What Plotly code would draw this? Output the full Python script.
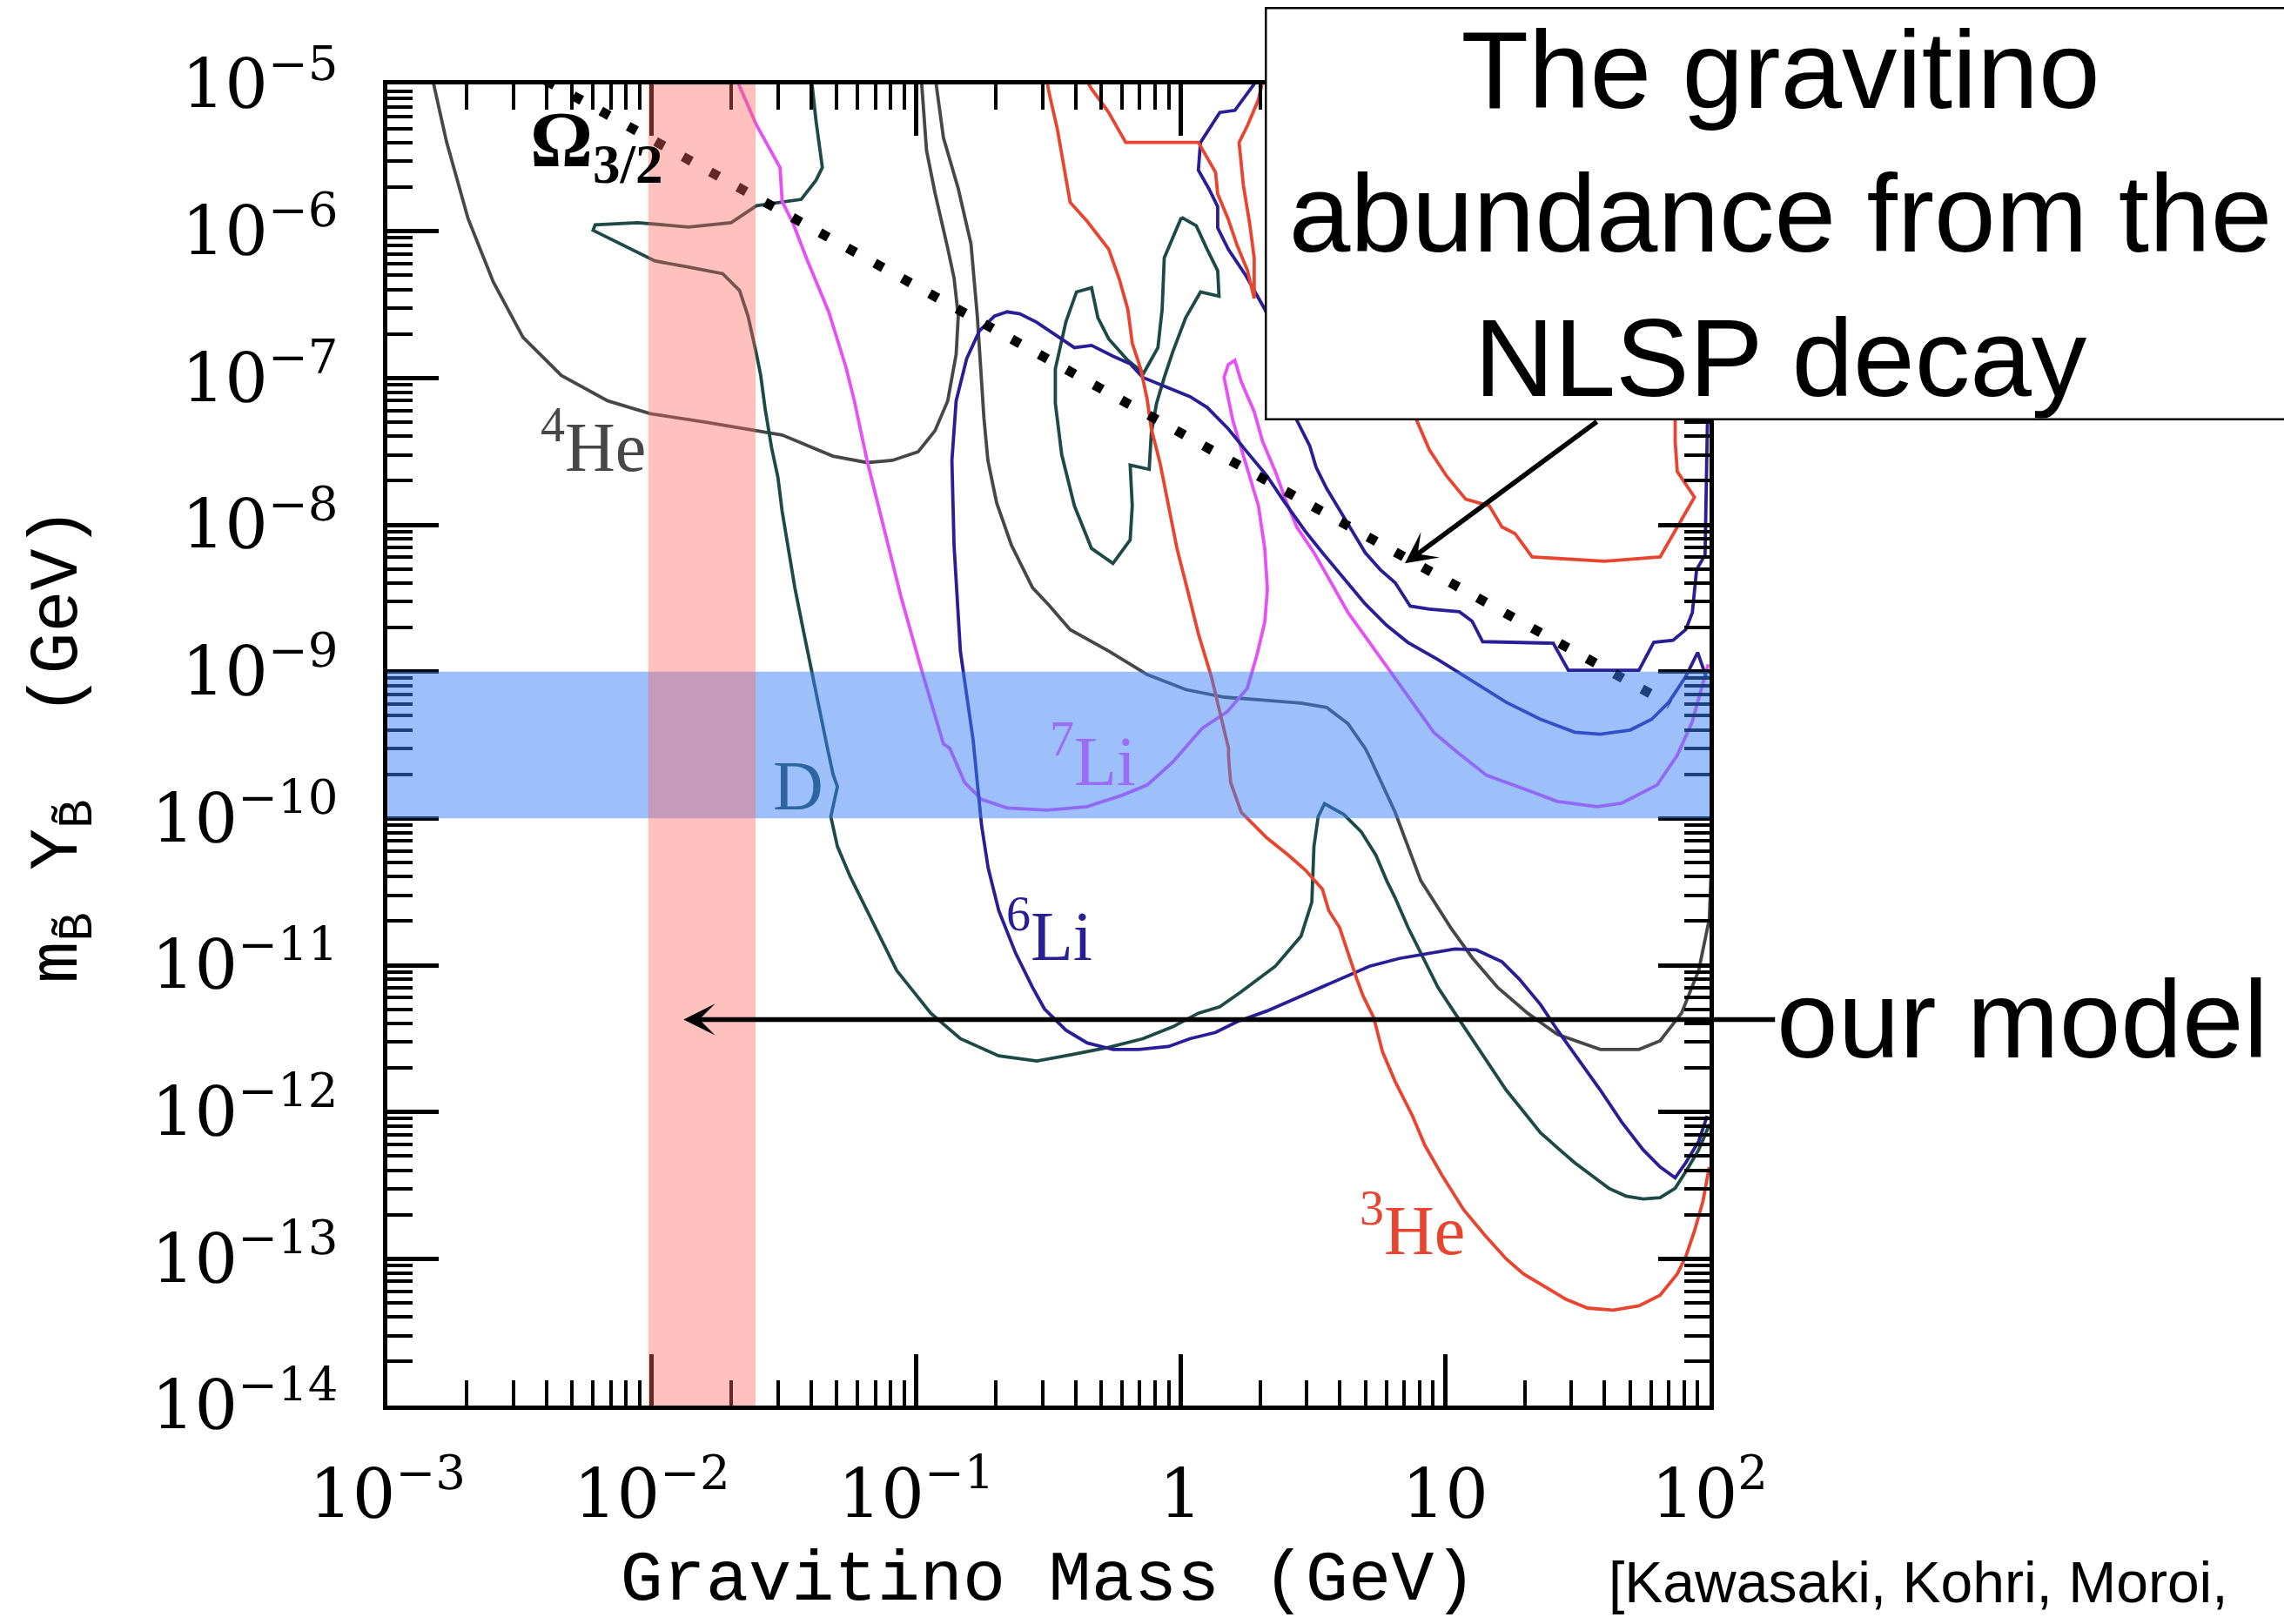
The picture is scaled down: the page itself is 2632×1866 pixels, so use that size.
import numpy as np
import plotly.graph_objects as go

## BBN constraint contours
# values are log10(gravitino mass / GeV) and log10(m_B Y_B / GeV)

he4_left_lm = [-2.827, -2.776, -2.695, -2.599, -2.487, -2.342, -2.166, -2.005, -1.796, -1.604,
               -1.507, -1.411, -1.315, -1.186, -1.090, -0.993, -0.929, -0.881, -0.849, -0.841,
               -0.857, -0.881, -0.929, -0.961, -0.980]
he4_left_ly = [-4.98, -5.392, -5.913, -6.347, -6.723, -6.983, -7.156, -7.243, -7.301, -7.359,
               -7.388, -7.460, -7.532, -7.576, -7.561, -7.503, -7.359, -7.156, -6.838, -6.578,
               -6.318, -6.115, -5.739, -5.450, -4.98]

he4_right_lm = [-0.926, -0.897, -0.841, -0.793, -0.769, -0.753, -0.744, -0.729, -0.696, -0.640,
                -0.560, -0.499, -0.418, -0.272, -0.127, 0.019, 0.164, 0.310, 0.455, 0.552,
                0.633, 0.698, 0.714, 0.811, 0.908, 1.021, 1.102, 1.199, 1.312, 1.425,
                1.587, 1.733, 1.813, 1.894, 1.959, 1.999, 2.01]
he4_right_ly = [-4.98, -5.363, -5.710, -6.086, -6.578, -6.983, -7.272, -7.561, -7.850, -8.139,
                -8.429, -8.545, -8.714, -8.860, -9.020, -9.122, -9.174, -9.194, -9.215, -9.244,
                -9.355, -9.523, -9.580, -9.958, -10.424, -10.744, -10.948, -11.152, -11.327, -11.472,
                -11.574, -11.574, -11.516, -11.327, -11.036, -10.686, -10.2]

d_main_lm = [-1.395, -1.379, -1.355, -1.379, -1.435, -1.523, -1.604, -1.700, -1.861, -2.053,
             -2.214, -2.222, -2.117, -2.037, -1.989, -1.861, -1.732, -1.668, -1.636, -1.604,
             -1.588, -1.571, -1.547, -1.523, -1.507, -1.483, -1.459, -1.427, -1.395, -1.363,
             -1.339, -1.315, -1.298, -1.323, -1.298, -1.250, -1.170, -1.074, -0.945, -0.833,
             -0.688, -0.544, -0.418, -0.272, -0.143, -0.030, 0.067, 0.148, 0.229, 0.358,
             0.455, 0.496, 0.504, 0.520, 0.544, 0.617, 0.682, 0.738, 0.779, 0.811,
             0.860, 0.908, 0.973, 1.037, 1.102, 1.167, 1.231, 1.296, 1.361, 1.425,
             1.490, 1.555, 1.619, 1.684, 1.749, 1.813, 1.870, 1.911, 1.959, 2.000]
d_main_ly = [-4.98, -5.248, -5.566, -5.653, -5.783, -5.803, -5.826, -5.942, -5.971, -5.942,
             -5.956, -5.994, -6.086, -6.159, -6.202, -6.245, -6.289, -6.404, -6.578, -6.838,
             -6.983, -7.214, -7.474, -7.677, -7.908, -8.168, -8.429, -8.718, -9.007, -9.296,
             -9.493, -9.697, -9.784, -9.988, -10.191, -10.395, -10.686, -11.036, -11.327, -11.501,
             -11.618, -11.653, -11.612, -11.560, -11.501, -11.420, -11.327, -11.283, -11.181, -11.007,
             -10.803, -10.570, -10.191, -9.988, -9.900, -9.973, -10.089, -10.250, -10.424, -10.541,
             -10.744, -10.919, -11.152, -11.327, -11.501, -11.676, -11.851, -11.996, -12.142, -12.244,
             -12.346, -12.433, -12.520, -12.573, -12.593, -12.584, -12.520, -12.404, -12.258, -12.084]

d_island_lm = [0.003, 0.059, 0.100, 0.140, 0.145, 0.075, 0.019, -0.030, -0.062, -0.091,
               -0.111, -0.119, -0.191, -0.183, -0.191, -0.256, -0.337, -0.402, -0.450, -0.474,
               -0.474, -0.434, -0.394, -0.337, -0.313, -0.272, -0.200, -0.140, -0.086, -0.070,
               -0.062, 0.003]
d_island_ly = [-5.905, -5.963, -6.123, -6.269, -6.443, -6.414, -6.589, -6.822, -6.996, -7.171,
               -7.375, -7.622, -7.593, -7.870, -8.103, -8.263, -8.161, -7.870, -7.520, -7.171,
               -6.938, -6.618, -6.414, -6.385, -6.589, -6.734, -6.880, -6.967, -6.793, -6.531,
               -6.181, -5.905]

li7_lm = [-1.676, -1.604, -1.515, -1.507, -1.467, -1.411, -1.331, -1.266, -1.234, -1.186,
          -1.122, -1.058, -0.977, -0.897, -0.873, -0.817, -0.753, -0.656, -0.505, -0.354,
          -0.222, -0.126, -0.031, 0.081, 0.176, 0.252, 0.288, 0.318, 0.328, 0.318,
          0.294, 0.245, 0.197, 0.164, 0.180, 0.205, 0.229, 0.278, 0.310, 0.358,
          0.399, 0.439, 0.504, 0.569, 0.633, 0.714, 0.795, 0.876, 0.957, 1.045,
          1.157, 1.292, 1.424, 1.575, 1.668, 1.802, 1.878, 1.934, 1.971, 1.995]
li7_ly = [-4.98, -5.277, -5.566, -5.797, -5.942, -6.202, -6.549, -6.925, -7.156, -7.561,
          -8.024, -8.487, -9.007, -9.493, -9.522, -9.755, -9.871, -9.929, -9.944, -9.920,
          -9.843, -9.772, -9.618, -9.387, -9.274, -9.114, -8.889, -8.663, -8.438, -8.161,
          -7.870, -7.579, -7.288, -6.996, -6.909, -6.880, -7.025, -7.229, -7.433, -7.637,
          -7.841, -8.015, -8.190, -8.394, -8.598, -8.801, -9.005, -9.209, -9.413, -9.547,
          -9.707, -9.795, -9.884, -9.920, -9.896, -9.772, -9.570, -9.345, -9.114, -8.95]

li6_low_lm = [1.991, 1.959, 1.910, 1.870, 1.813, 1.749, 1.668, 1.587, 1.506, 1.425,
              1.361, 1.280, 1.215, 1.118, 1.037, 0.940, 0.827, 0.714, 0.585, 0.455,
              0.326, 0.213, 0.132, 0.035, -0.046, -0.159, -0.256, -0.353, -0.434, -0.515,
              -0.560, -0.624, -0.688, -0.728, -0.753, -0.769, -0.785, -0.833, -0.857, -0.865,
              -0.849, -0.809, -0.761, -0.704, -0.656, -0.608, -0.544, -0.402, -0.337, -0.256,
              -0.191, -0.143, -0.062, 0.035, 0.100, 0.180, 0.245, 0.326, 0.391, 0.471,
              0.536, 0.617, 0.698, 0.779, 0.859, 0.973, 1.102, 1.231, 1.361, 1.490,
              1.587, 1.700, 1.781, 1.846, 1.910, 1.955, 1.990]
li6_low_ly = [-12.026, -12.200, -12.346, -12.448, -12.375, -12.258, -12.069, -11.851, -11.647, -11.443,
              -11.269, -11.094, -10.977, -10.896, -10.890, -10.919, -10.954, -11.007, -11.108, -11.210,
              -11.312, -11.385, -11.458, -11.501, -11.554, -11.574, -11.574, -11.530, -11.443, -11.298,
              -11.152, -10.919, -10.628, -10.337, -10.046, -9.755, -9.464, -8.862, -8.139, -7.561,
              -7.156, -6.867, -6.679, -6.578, -6.549, -6.563, -6.621, -6.793, -6.778, -6.851,
              -6.903, -6.996, -7.055, -7.127, -7.200, -7.346, -7.491, -7.666, -7.841, -8.044,
              -8.190, -8.365, -8.539, -8.685, -8.801, -8.918, -9.063, -9.209, -9.325, -9.413,
              -9.427, -9.398, -9.325, -9.209, -9.034, -8.870, -9.050]

li6_up_lm = [0.285, 0.205, 0.148, 0.075, 0.067, 0.108, 0.140, 0.140, 0.180, 0.245,
             0.318, 0.391, 0.439, 0.488, 0.512, 0.552, 0.601, 0.649, 0.698, 0.755,
             0.811, 0.868, 0.941, 1.054, 1.102, 1.142, 1.345, 1.409, 1.466, 1.733,
             1.789, 1.862, 1.910, 1.935, 1.943, 1.951, 1.983, 1.995]
li6_up_ly = [-4.98, -5.177, -5.191, -5.395, -5.584, -5.715, -5.832, -5.977, -6.123, -6.298,
             -6.531, -6.822, -7.287, -7.462, -7.608, -7.753, -7.899, -8.044, -8.190, -8.306,
             -8.394, -8.554, -8.574, -8.592, -8.656, -8.796, -8.801, -8.807, -8.991, -8.991,
             -8.801, -8.787, -8.714, -8.598, -8.452, -8.306, -8.205, -7.0]

he3_main_lm = [-0.505, -0.499, -0.466, -0.442, -0.418, -0.353, -0.272, -0.232, -0.200, -0.183,
               -0.151, -0.127, -0.111, -0.078, -0.046, -0.014, 0.027, 0.067, 0.116, 0.156,
               0.181, 0.181, 0.189, 0.229, 0.326, 0.407, 0.471, 0.536, 0.560, 0.601,
               0.633, 0.666, 0.690, 0.730, 0.763, 0.811, 0.876, 0.924, 0.989, 1.070,
               1.151, 1.231, 1.296, 1.377, 1.458, 1.539, 1.636, 1.733, 1.813, 1.878,
               1.910, 1.943, 1.975, 1.999]
he3_main_ly = [-4.98, -5.046, -5.308, -5.541, -5.803, -5.934, -6.123, -6.327, -6.531, -6.763,
               -6.938, -7.142, -7.346, -7.579, -7.870, -8.161, -8.452, -8.743, -9.034, -9.325,
               -9.523, -9.580, -9.755, -9.958, -10.133, -10.250, -10.351, -10.482, -10.628, -10.744,
               -10.919, -11.094, -11.210, -11.356, -11.589, -11.792, -12.025, -12.229, -12.433, -12.666,
               -12.841, -13.001, -13.103, -13.190, -13.277, -13.336, -13.350, -13.321, -13.248, -13.103,
               -12.986, -12.811, -12.608, -12.375]

he3_loop_lm = [-0.354, -0.337, -0.272, -0.208, 0.067, 0.100, 0.132, 0.140, 0.180, 0.213,
               0.253, 0.278, 0.278, 0.261, 0.237, 0.221, 0.253, 0.294, 0.310]
he3_loop_ly = [-4.98, -5.031, -5.191, -5.395, -5.395, -5.497, -5.599, -5.745, -5.919, -6.094,
               -6.269, -6.458, -6.181, -5.948, -5.686, -5.395, -5.279, -5.104, -4.98]

he3_right_lm = [0.698, 0.892, 0.941, 1.005, 1.078, 1.167, 1.215, 1.264, 1.329, 1.603,
                1.813, 1.878, 1.943, 1.878, 1.870, 1.870, 1.862]
he3_right_ly = [-6.705, -7.287, -7.491, -7.666, -7.826, -7.870, -8.015, -8.059, -8.219, -8.248,
                -8.219, -8.015, -7.812, -7.637, -7.433, -7.288, -6.996]

# Omega_3/2 line (dotted), end points
omega_lm = [-2.40, 1.85]
omega_ly = [-4.974, -9.224]

# shaded bands (GeV, GeV)
model_mass = [0.0097, 0.0247]
model_abund = [1e-10, 1e-9]

# label positions (log10 units)
labels = [
    ("<b>Ω<sub>3/2</sub></b>", -2.21, -5.42, "black", 90),
    ("<sup>4</sup>He", -2.222, -7.434, "#474747", 80),
    ("D", -1.446, -9.778, "#2d669e", 80),
    ("<sup>7</sup>Li", -0.331, -9.572, "#9c6cf6", 80),
    ("<sup>6</sup>Li", -0.497, -10.767, "#2a1e96", 80),
    ("<sup>3</sup>He", 0.876, -12.768, "#e84530", 80),
]

x_tickvals = [1e-3, 1e-2, 1e-1, 1, 10, 100]
x_ticktext = ["10<sup>−3</sup>", "10<sup>−2</sup>", "10<sup>−1</sup>", "1", "10", "10<sup>2</sup>"]
y_exps = list(range(-14, -4))
y_tickvals = [10.0 ** e for e in y_exps]
y_ticktext = ["10<sup>−%d</sup>" % -e for e in y_exps]
x_minor = [k * 10.0 ** e for e in range(-3, 2) for k in range(2, 10)]
y_minor = [k * 10.0 ** e for e in range(-14, -5) for k in range(2, 10)]


def curve(lm, ly, color):
    return go.Scatter(x=10.0 ** np.array(lm), y=10.0 ** np.array(ly), mode="lines",
                      line=dict(color=color, width=3.8), hoverinfo="skip", showlegend=False)


fig = go.Figure()
fig.add_trace(curve(he4_left_lm, he4_left_ly, "#474747"))
fig.add_trace(curve(he4_right_lm, he4_right_ly, "#474747"))
fig.add_trace(curve(d_main_lm, d_main_ly, "#1d4a46"))
fig.add_trace(curve(d_island_lm, d_island_ly, "#1d4a46"))
fig.add_trace(curve(li7_lm, li7_ly, "#e650f5"))
fig.add_trace(curve(li6_low_lm, li6_low_ly, "#2a1e96"))
fig.add_trace(curve(li6_up_lm, li6_up_ly, "#2a1e96"))
fig.add_trace(curve(he3_main_lm, he3_main_ly, "#e84530"))
fig.add_trace(curve(he3_loop_lm, he3_loop_ly, "#e84530"))
fig.add_trace(curve(he3_right_lm, he3_right_ly, "#e84530"))
fig.add_trace(go.Scatter(x=10.0 ** np.array(omega_lm), y=10.0 ** np.array(omega_ly), mode="lines",
                         line=dict(color="black", width=11, dash="11px,25px"),
                         hoverinfo="skip", showlegend=False))

# bands on top of the curves
fig.add_shape(type="rect", xref="x domain", yref="y", x0=0, x1=1,
              y0=model_abund[0], y1=model_abund[1],
              fillcolor="rgba(60,130,245,0.5)", line_width=0, layer="above")
fig.add_shape(type="rect", xref="x", yref="y domain", x0=model_mass[0], x1=model_mass[1],
              y0=0, y1=1, fillcolor="rgba(255,100,90,0.4)", line_width=0, layer="above")

for txt, lx, ly, col, sz in labels:
    fig.add_annotation(x=lx, y=ly, xref="x", yref="y", text=txt, showarrow=False,
                       font=dict(family="Liberation Serif", size=sz, color=col))

# text box + arrows
fig.add_annotation(xref="paper", yref="paper", x=1.0536, y=0.9022, xanchor="center", yanchor="middle",
                   text="The gravitino<br>abundance from the<br>NLSP decay", showarrow=False,
                   font=dict(family="Liberation Sans", size=127, color="black"),
                   bgcolor="white", bordercolor="black", borderwidth=2.5, borderpad=0,
                   width=1180, height=470, align="center", valign="middle")
fig.add_annotation(x=0.848, y=-8.263, xref="x", yref="y", text="", showarrow=True,
                   ax=222, ay=-164, arrowhead=3, arrowwidth=5.5, arrowsize=1.1, arrowcolor="black")
fig.add_annotation(x=-1.88, y=-11.37, xref="x", yref="y", text="our model", showarrow=True,
                   ax=1538, ay=0, arrowhead=3, arrowwidth=5.5, arrowsize=1.1, arrowcolor="black",
                   font=dict(family="Liberation Sans", size=127, color="black"))
fig.add_annotation(xref="paper", yref="paper", x=0.9223, y=-0.1337, xanchor="left", yanchor="middle",
                   text="[Kawasaki, Kohri, Moroi,", showarrow=False,
                   font=dict(family="Liberation Sans", size=66, color="black"))

axis_common = dict(type="log", ticks="inside", ticklen=59, tickwidth=4.5, tickcolor="black",
                   showline=True, linewidth=5, linecolor="black", mirror="ticks",
                   showgrid=False, zeroline=False, tickmode="array",
                   tickfont=dict(family="DejaVu Serif", size=78, color="black"))

fig.update_xaxes(range=[-3, 2], tickvals=x_tickvals, ticktext=x_ticktext, ticklabelstandoff=30,
                 minor=dict(tickmode="array", tickvals=x_minor, ticks="inside", ticklen=29,
                            tickwidth=4, tickcolor="black", showgrid=False),
                 title=dict(text="Gravitino Mass (GeV)", standoff=22,
                            font=dict(family="Liberation Mono", size=82, color="black")),
                 **axis_common)
fig.update_yaxes(range=[-14, -5], tickvals=y_tickvals, ticktext=y_ticktext, ticklabelstandoff=36,
                 minor=dict(tickmode="array", tickvals=y_minor, ticks="inside", ticklen=29,
                            tickwidth=4, tickcolor="black", showgrid=False),
                 title=dict(text="m<sub>B\u0303</sub> Y<sub>B\u0303</sub>  (GeV)", standoff=60,
                            font=dict(family="Liberation Mono", size=80, color="black")),
                 **axis_common)

# page body adds an 8 px offset, so pull the plot up/left by that much
fig.update_layout(width=2632, height=1866,
                  margin=dict(l=437, r=676, t=89, b=259, autoexpand=False),
                  paper_bgcolor="white", plot_bgcolor="white", showlegend=False)

fig.write_html("out.html")
